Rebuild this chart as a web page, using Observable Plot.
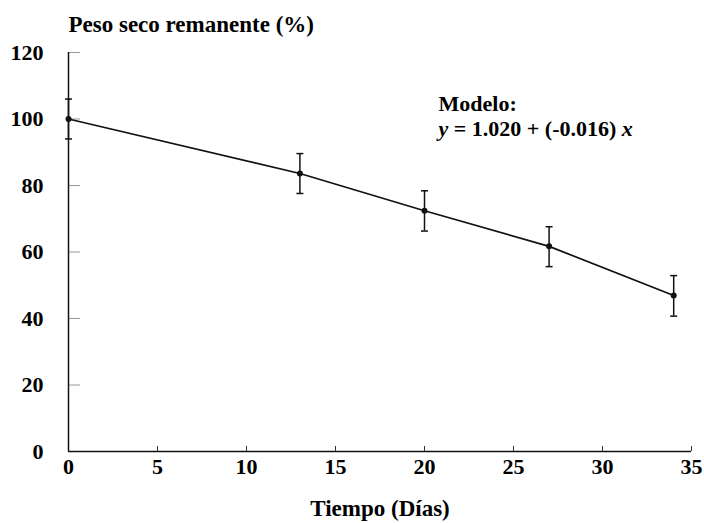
<!DOCTYPE html>
<html><head><meta charset="utf-8">
<script src="https://cdn.jsdelivr.net/npm/d3@7"></script>
<script src="https://cdn.jsdelivr.net/npm/@observablehq/plot@0.6"></script>
<style>
body{margin:0;background:#fff}
svg{display:block}
#chart svg, #chart svg text {font-family: "Liberation Serif", "DejaVu Serif", serif !important;}
</style>
</head><body><div id="chart"></div>
<script>
const days = [0, 13, 20, 27, 34];
const weight = [100, 83.6, 72.4, 61.7, 46.9];
const errLow = [94, 77.6, 66.3, 55.6, 40.7];
const errHigh = [106, 89.6, 78.4, 67.6, 52.9];
const xTicks = [0, 5, 10, 15, 20, 25, 30, 35];
const yTicks = [0, 20, 40, 60, 80, 100, 120];
const title = "Peso seco remanente (%)";
const xLabel = "Tiempo (Días)";
const modelLines = ["Modelo:", "y = 1.020 + (-0.016) x"];

const data = days.map((d, i) => ({day: d, w: weight[i], lo: errLow[i], hi: errHigh[i]}));
const capSymbol = {draw(ctx, size) { const r = Math.sqrt(size / Math.PI); ctx.moveTo(-r, 0); ctx.lineTo(r, 0); }};
const font = "'Liberation Serif', 'DejaVu Serif', serif";

const plot = Plot.plot({
  width: 704, height: 523,
  marginLeft: 68, marginRight: 13, marginTop: 52, marginBottom: 72,
  style: {fontFamily: font, fontWeight: "bold", fontSize: "21px", color: "#000", background: "#fff"},
  x: {domain: [0, 35]},
  y: {domain: [0, 120]},
  marks: [
    Plot.axisX({ticks: xTicks, tickSize: -5, tickPadding: 12, label: null, fontSize: 22, fontWeight: "bold", fontFamily: font, stroke: "#333"}),
    Plot.axisY({ticks: yTicks, tickSize: -12, tickPadding: 37, label: null, fontSize: 22, fontWeight: "bold", fontFamily: font, stroke: "#999"}),
    Plot.ruleX([0], {stroke: "#111", strokeWidth: 1.5}),
    Plot.ruleY([0], {stroke: "#111", strokeWidth: 1.5}),
    Plot.line(data, {x: "day", y: "w", stroke: "#111", strokeWidth: 1.7}),
    Plot.ruleX(data, {x: "day", y1: "lo", y2: "hi", stroke: "#111", strokeWidth: 1.5}),
    Plot.dot(data, {x: "day", y: "lo", symbol: capSymbol, r: 3.5, stroke: "#111", strokeWidth: 1.5, fill: "none"}),
    Plot.dot(data, {x: "day", y: "hi", symbol: capSymbol, r: 3.5, stroke: "#111", strokeWidth: 1.5, fill: "none"}),
    Plot.dot(data, {x: "day", y: "w", r: 3, fill: "#111", stroke: "none"}),
    Plot.text([title], {text: d => d, frameAnchor: "top-left", textAnchor: "start", lineAnchor: "middle", dy: -28, fontSize: 23, fontWeight: "bold", fontFamily: font}),
    Plot.text([modelLines[0]], {text: d => d, frameAnchor: "top-left", textAnchor: "start", lineAnchor: "middle", dx: 370, dy: 51, fontSize: 22, fontWeight: "bold", fontFamily: font}),
    Plot.text([modelLines[1]], {text: d => d, frameAnchor: "top-left", textAnchor: "start", lineAnchor: "middle", dx: 370, dy: 76, fontSize: 22, fontWeight: "bold", fontFamily: font}),
    Plot.text([xLabel], {text: d => d, frameAnchor: "bottom", lineAnchor: "middle", dy: 57, fontSize: 23, fontWeight: "bold", fontFamily: font})
  ]
});
document.getElementById("chart").appendChild(plot);

// italicise the variables in the model equation
d3.select(plot).selectAll("text").filter(function() { return this.textContent === modelLines[1]; })
  .each(function() {
    const t = d3.select(this);
    const s = modelLines[1];
    t.text(null);
    t.append("tspan").attr("font-style", "italic").text(s.slice(0, 1));
    t.append("tspan").text(s.slice(1, s.length - 1));
    t.append("tspan").attr("font-style", "italic").text(s.slice(s.length - 1));
  });
</script>
</body></html>
